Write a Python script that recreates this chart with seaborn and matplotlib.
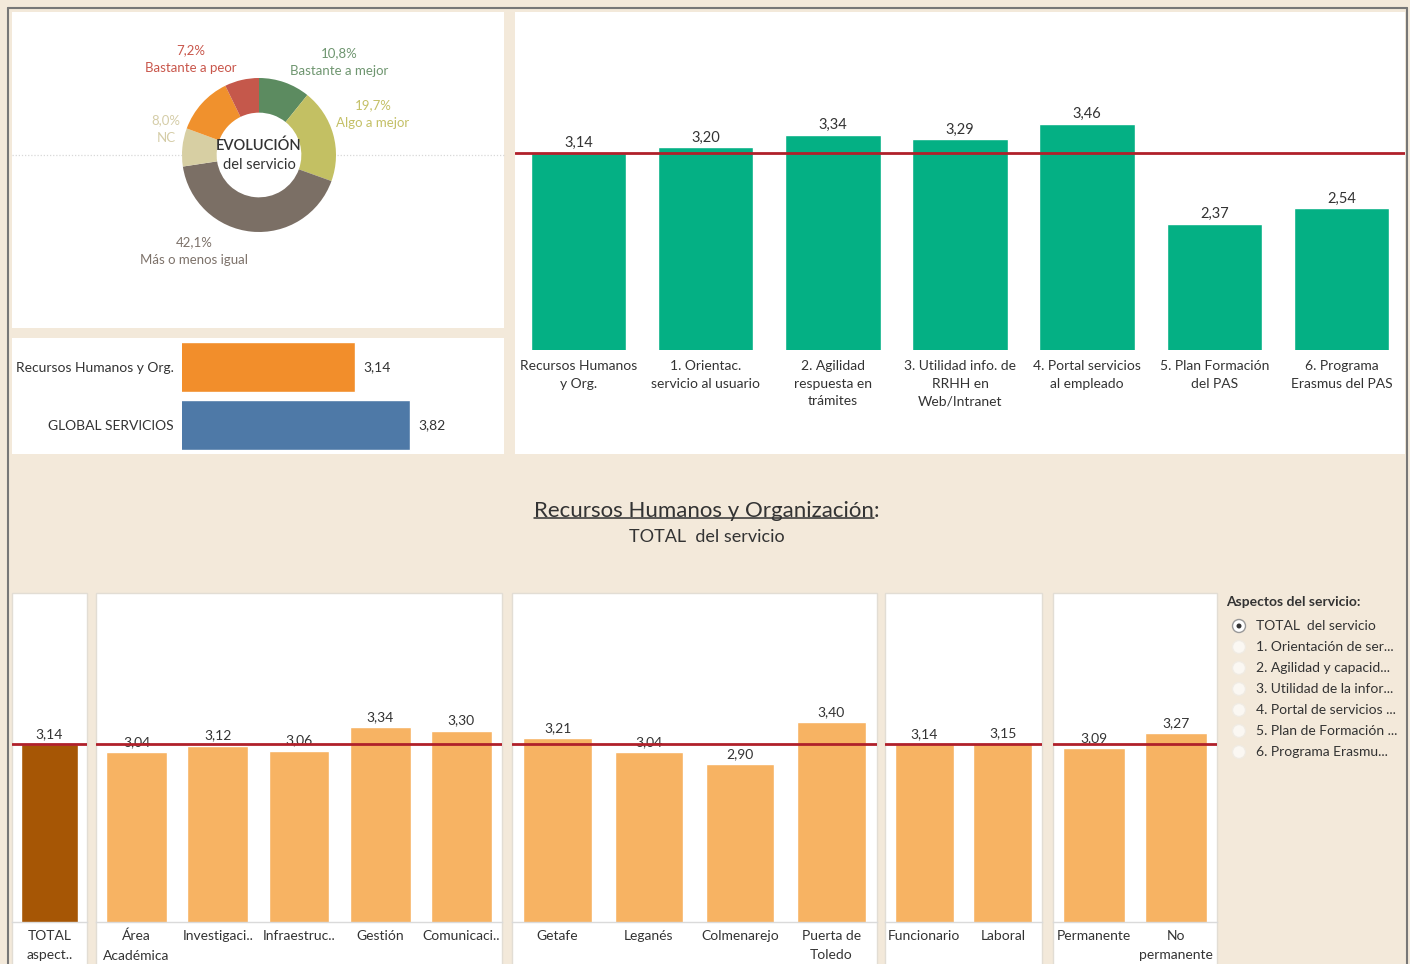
import matplotlib
matplotlib.use("Agg")
import matplotlib.pyplot as plt
import matplotlib.transforms as mtransforms
import seaborn as sns
import numpy as np
import pandas as pd
from matplotlib.patches import Rectangle, Circle
from matplotlib.lines import Line2D

# ---------------- DATA ----------------
evol_labels = ["Bastante a mejor", "Algo a mejor", "Más o menos igual", "NC", "Algo a peor", "Bastante a peor"]
evol_pct = [10.8, 19.7, 42.1, 8.0, 12.2, 7.2]
evol_show = [True, True, True, True, False, True]

cmp_labels = ["Recursos Humanos y Org.", "GLOBAL SERVICIOS"]
cmp_values = [3.14, 3.82]

asp_labels = ["Recursos Humanos\ny Org.", "1. Orientac.\nservicio al usuario", "2. Agilidad\nrespuesta en\ntrámites",
              "3. Utilidad info. de\nRRHH en\nWeb/Intranet", "4. Portal servicios\nal empleado",
              "5. Plan Formación\ndel PAS", "6. Programa\nErasmus del PAS"]
asp_values = [3.14, 3.20, 3.34, 3.29, 3.46, 2.37, 2.54]

reference = 3.14

total_labels = ["TOTAL\naspect.."]
total_values = [3.14]
area_labels = ["Área\nAcadémica", "Investigaci..", "Infraestruc..", "Gestión", "Comunicaci.."]
area_values = [3.04, 3.12, 3.06, 3.34, 3.30]
campus_labels = ["Getafe", "Leganés", "Colmenarejo", "Puerta de\nToledo"]
campus_values = [3.21, 3.04, 2.90, 3.40]
rel_labels = ["Funcionario", "Laboral"]
rel_values = [3.14, 3.15]
perm_labels = ["Permanente", "No\npermanente"]
perm_values = [3.09, 3.27]

legend_title = "Aspectos del servicio:"
legend_items = ["TOTAL  del servicio", "1. Orientación de ser...", "2. Agilidad y capacid...",
                "3. Utilidad de la infor...", "4. Portal de servicios ...", "5. Plan de Formación ...",
                "6. Programa Erasmu..."]

title_main = "Recursos Humanos y Organización"
title_sub = "TOTAL  del servicio"

# ---------------- STYLE ----------------
sns.set_theme(style="white")
plt.rcParams['font.family'] = ['Lato', 'DejaVu Sans']

BG = '#F3E9DA'
RED = '#B0202A'
GREEN = '#04B084'
ORANGE = '#F28E2B'
BLUE = '#4E79A7'
LIGHTOR = '#F7B363'
BROWN = '#A65605'
TXT = '#333333'
evol_colors = ['#5C8B60', '#C3C063', '#7B6F65', '#D7CFA3', '#F0912D', '#C5584B']
evol_text = ['#6F9670', '#C4C066', '#7D726A', '#D5CDA8', '#F0912D', '#C9574C']

W, H = 1410, 964
fig = plt.figure(figsize=(W / 100, H / 100), dpi=100, facecolor=BG)


def rect(x0, y0, x1, y1):
    return [x0 / W, 1 - y1 / H, (x1 - x0) / W, (y1 - y0) / H]


def panel(x0, y0, x1, y1, edge='none'):
    fig.add_artist(Rectangle((x0 / W, 1 - y1 / H), (x1 - x0) / W, (y1 - y0) / H,
                             transform=fig.transFigure, facecolor='white',
                             edgecolor=edge, lw=1, zorder=-2))


def fmt(v):
    return f"{v:.2f}".replace('.', ',')


def cat_labels(ax, labels, pad_px, fontsize, spacing):
    ax.set_xticks(range(len(labels)))
    ax.set_xticklabels([])
    ax.tick_params(axis='x', length=0)
    base = mtransforms.blended_transform_factory(ax.transData, ax.transAxes)
    off = mtransforms.ScaledTranslation(0, -pad_px / 100, fig.dpi_scale_trans)
    for i, lab in enumerate(labels):
        ax.text(i, 0, lab, transform=base + off, ha='center', va='top', fontsize=fontsize,
                color=TXT, linespacing=spacing, clip_on=False)


# outer frame
for xs, ys in [([8, 8], [964, 8]), ([8, 1407], [8, 8]), ([1407, 1407], [8, 964])]:
    fig.add_artist(Line2D([x / W for x in xs], [1 - y / H for y in ys], transform=fig.transFigure,
                          color='#777777', lw=1.5, zorder=-1))

# panels
panel(12, 12, 504, 328)
panel(12, 338, 504, 454)
panel(515, 12, 1405, 454)
for (a, b) in [(12, 87), (96, 502), (512, 877), (885, 1042), (1053, 1217)]:
    panel(a, 593, b, 966, edge='#E2DDD4')

# ---------------- DONUT ----------------
cx, cy, R = 259, 155, 77
fig.add_artist(Line2D([12 / W, 504 / W], [1 - cy / H, 1 - cy / H], transform=fig.transFigure,
                      color='#D8D8D8', lw=0.9, ls=(0, (1, 1.5)), zorder=-1))
axd = fig.add_axes(rect(cx - 100, cy - 100, cx + 100, cy + 100))
axd.set_facecolor('none')
axd.pie(evol_pct, colors=evol_colors, startangle=90, counterclock=False, radius=1,
        wedgeprops=dict(width=0.45, linewidth=0))
axd.add_patch(Circle((0, 0), 0.55, color='white', zorder=0.5))
axd.set_xlim(-100 / R, 100 / R)
axd.set_ylim(-100 / R, 100 / R)
axd.set_aspect('equal')
axd.axis('off')
axd.text(0, 9 / R, "EVOLUCIÓN", ha='center', va='center', fontsize=10.5, color=TXT, fontweight='semibold')
axd.text(0, -10 / R, "del servicio", ha='center', va='center', fontsize=10.5, color=TXT)
label_pos = {0: (80, 93), 1: (114, 41), 2: (-65, -96), 3: (-93, 26), 5: (-68, 96)}
for i, (lab, p) in enumerate(zip(evol_labels, evol_pct)):
    if not evol_show[i]:
        continue
    dx, dy = label_pos[i]
    axd.text(dx / R, dy / R, f"{p:.1f}%".replace('.', ',') + "\n" + lab, ha='center', va='center',
             fontsize=9.5, color=evol_text[i], linespacing=1.6)

# ---------------- SMALL HBAR ----------------
axh = fig.add_axes(rect(182, 338, 505, 454))
axh.set_facecolor('none')
sns.barplot(x=cmp_values, y=cmp_labels, hue=cmp_labels, palette=[ORANGE, BLUE], orient='h',
            width=0.87, saturation=1, legend=False, ax=axh)
axh.set_xlim(1, 5)
axh.set_ylim(1.5, -0.5)
for c, v in zip(axh.containers, cmp_values):
    axh.bar_label(c, labels=[fmt(v)], padding=6, fontsize=10, color=TXT)
axh.set_xticks([])
axh.tick_params(axis='y', length=0, pad=6, labelsize=10, colors=TXT)
axh.set_xlabel('')
axh.set_ylabel('')
sns.despine(ax=axh, left=True, bottom=True)

# ---------------- TOP RIGHT BAR ----------------
axt = fig.add_axes(rect(515, 12, 1405, 350))
axt.set_facecolor('none')
sns.barplot(x=asp_labels, y=asp_values, color=GREEN, width=0.75, saturation=1, ax=axt)
axt.set_ylim(1, 1 + 338 / 92.06)
axt.set_xlim(-0.5, len(asp_labels) - 0.5)
axt.axhline(reference, color=RED, lw=2, zorder=5)
axt.bar_label(axt.containers[0], labels=[fmt(v) for v in asp_values], padding=2, fontsize=10.5, color=TXT)
axt.set_yticks([])
cat_labels(axt, asp_labels, 10, 10, 1.55)
axt.set_xlabel('')
axt.set_ylabel('')
sns.despine(ax=axt, left=True, bottom=True)

# ---------------- BOTTOM PANELS ----------------
def bottom_chart(x0, x1, labels, values, color):
    ax = fig.add_axes(rect(x0, 593, x1, 922))
    ax.set_facecolor('none')
    sns.barplot(x=labels, y=values, color=color, width=0.75, saturation=1, ax=ax)
    ax.set_ylim(1, 1 + 329 / 83.2)
    ax.set_xlim(-0.5, len(labels) - 0.5)
    ax.axhline(reference, color=RED, lw=2, zorder=5)
    ax.bar_label(ax.containers[0], labels=[fmt(v) for v in values], padding=3, fontsize=10, color=TXT)
    ax.set_yticks([])
    cat_labels(ax, labels, 8, 10, 1.7)
    ax.set_xlabel('')
    ax.set_ylabel('')
    sns.despine(ax=ax, left=True, top=True, right=True)
    ax.spines['bottom'].set_color('#DADADA')
    ax.spines['bottom'].set_linewidth(1)
    return ax


bottom_chart(12, 87, total_labels, total_values, BROWN)
bottom_chart(96, 502, area_labels, area_values, LIGHTOR)
bottom_chart(512, 877, campus_labels, campus_values, LIGHTOR)
bottom_chart(885, 1042, rel_labels, rel_values, LIGHTOR)
bottom_chart(1053, 1217, perm_labels, perm_values, LIGHTOR)

# ---------------- LEGEND ----------------
axl = fig.add_axes(rect(1220, 590, 1410, 770))
axl.set_xlim(1220, 1410)
axl.set_ylim(770, 590)
axl.axis('off')
axl.text(1226, 602, legend_title, fontsize=10, fontweight='bold', color=TXT, va='center', ha='left')
for i, item in enumerate(legend_items):
    y = 626 + i * 21
    if i == 0:
        axl.add_patch(Circle((1239, y), 6.5, facecolor='white', edgecolor='#999999', lw=1))
        axl.add_patch(Circle((1239, y), 2.5, facecolor='#333333', edgecolor='none'))
    else:
        axl.add_patch(Circle((1239, y), 6.5, facecolor='#FBF8F3', edgecolor='#F0EBE3', lw=1))
    axl.text(1256, y, item, fontsize=10, color=TXT, va='center', ha='left')

# ---------------- TITLE ----------------
tt = fig.text(704 / W, 1 - 511 / H, title_main, ha='center', va='center', fontsize=16, color=TXT)
fig.text(707 / W, 1 - 537 / H, title_sub, ha='center', va='center', fontsize=13, color=TXT)
fig.canvas.draw()
bb = tt.get_window_extent()
uy = bb.y0 + 0.14 * (bb.y1 - bb.y0)
fig.add_artist(Line2D([bb.x0 / W, bb.x1 / W], [uy / H, uy / H], transform=fig.transFigure, color=TXT, lw=1.1))
fig.text(bb.x1 / W, (bb.y0 + bb.y1) / 2 / H, ":", ha='left', va='center', fontsize=16, color=TXT)

fig.savefig("out.png", dpi=100, facecolor=BG)
